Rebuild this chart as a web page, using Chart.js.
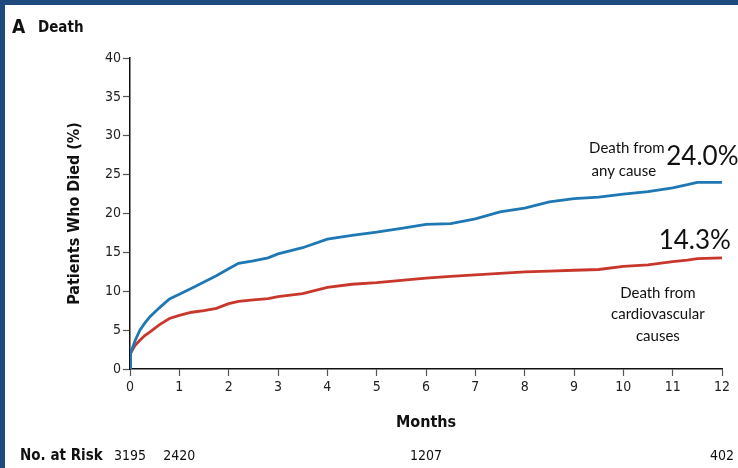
<!DOCTYPE html>
<html>
<head>
<meta charset="utf-8">
<script src="https://cdn.jsdelivr.net/npm/chart.js@4.4.0/dist/chart.umd.min.js"></script>
<style>
  html, body { margin: 0; padding: 0; background: #1f4a7e; }
  #frame {
    position: absolute; left: 5px; top: 5px;
    width: 733px; height: 463px; background: #fff;
  }
  #chart { display: block; }
</style>
</head>
<body>
<div id="frame"><canvas id="chart" width="733" height="463"></canvas></div>
<script>
/* ---------- data ---------- */
const months = [0, 0.01, 0.1, 0.2, 0.3, 0.4, 0.6, 0.8, 1.0, 1.25, 1.5, 1.75, 2.0, 2.2, 2.5, 2.8,
                3.0, 3.5, 4.0, 4.5, 5.0, 5.5, 6.0, 6.5, 7.0, 7.5, 8.0, 8.5, 9.0, 9.5, 10.0,
                10.5, 11.0, 11.3, 11.5, 12.0];

const anyCause = [0, 2.0, 3.6, 5.0, 5.9, 6.7, 7.9, 9.0, 9.6, 10.4, 11.2, 12.0, 12.9, 13.6, 13.9, 14.3,
                  14.8, 15.6, 16.7, 17.2, 17.6, 18.1, 18.6, 18.7, 19.3, 20.2, 20.7, 21.5, 21.9, 22.1, 22.5,
                  22.8, 23.3, 23.7, 24.0, 24.0];

const cvCause = [0, 2.0, 3.0, 3.7, 4.3, 4.75, 5.7, 6.5, 6.9, 7.3, 7.5, 7.8, 8.4, 8.7, 8.9, 9.05,
                 9.3, 9.7, 10.5, 10.9, 11.1, 11.4, 11.7, 11.9, 12.1, 12.3, 12.5, 12.6, 12.7, 12.8, 13.2,
                 13.4, 13.8, 14.0, 14.2, 14.3];

const riskMonths = [0, 1, 6, 12];
const riskCounts = ["3195", "2420", "1207", "402"];

const yTicks = [0, 5, 10, 15, 20, 25, 30, 35, 40];
const xTicks = [0, 1, 2, 3, 4, 5, 6, 7, 8, 9, 10, 11, 12];

/* ---------- styling ---------- */
const AXIS_FONT = "'DejaVu Sans Condensed', 'Liberation Sans', sans-serif";
const NOTE_FONT = "Lato, 'Open Sans', sans-serif";
const BLUE = "#1f78b4";
const RED = "#c9372c";

const toPoints = ys => months.map((m, i) => ({ x: m, y: ys[i] }));

/* extra texts: panel label, risk table, curve labels */
const textPlugin = {
    id: "textPlugin",
    afterDraw(chart) {
        const { ctx, scales: { x, y } } = chart;
        ctx.save();
        ctx.fillStyle = "#111";
        ctx.textBaseline = "middle";

        // panel label
        ctx.textAlign = "left";
        ctx.font = "bold 19px " + AXIS_FONT;
        ctx.fillText("A", 7, 23);
        ctx.font = "bold 15px " + AXIS_FONT;
        ctx.fillText("Death", 33, 23);

        // number at risk row
        ctx.font = "bold 15px " + AXIS_FONT;
        ctx.fillText("No. at Risk", 15, 451);
        ctx.font = "14px " + AXIS_FONT;
        ctx.textAlign = "center";
        riskMonths.forEach((m, i) => {
            ctx.fillText(riskCounts[i], x.getPixelForValue(m), 451);
        });

        // curve labels
        ctx.font = "15px " + NOTE_FONT;
        ctx.fillText("Death from", x.getPixelForValue(10.07), y.getPixelForValue(28.4));
        ctx.fillText("any cause", x.getPixelForValue(10.01), y.getPixelForValue(25.5));
        ctx.fillText("Death from", x.getPixelForValue(10.7), y.getPixelForValue(9.7));
        ctx.fillText("cardiovascular", x.getPixelForValue(10.7), y.getPixelForValue(7.0));
        ctx.fillText("causes", x.getPixelForValue(10.7), y.getPixelForValue(4.2));

        ctx.font = "26px " + NOTE_FONT;
        ctx.textAlign = "left";
        ctx.fillText("24.0%", x.getPixelForValue(10.87), y.getPixelForValue(27.3));
        ctx.textAlign = "right";
        ctx.fillText("14.3%", x.getPixelForValue(12.18), y.getPixelForValue(16.5));
        ctx.restore();
    }
};

new Chart(document.getElementById("chart"), {
    type: "line",
    data: {
        datasets: [
            { label: "Death from any cause", data: toPoints(anyCause), borderColor: BLUE, borderWidth: 2.8 },
            { label: "Death from cardiovascular causes", data: toPoints(cvCause), borderColor: RED, borderWidth: 2.8 }
        ]
    },
    options: {
        responsive: false,
        animation: false,
        layout: { padding: { left: 0, right: 16, top: 53, bottom: 0 } },
        elements: { point: { radius: 0 }, line: { tension: 0 } },
        plugins: { legend: { display: false }, tooltip: { enabled: false } },
        scales: {
            x: {
                type: "linear", min: 0, max: 12,
                afterBuildTicks: s => { s.ticks = xTicks.map(v => ({ value: v })); },
                afterFit: s => { s.height = 99; },
                border: { color: "#111", width: 1.5 },
                grid: { drawOnChartArea: false, tickLength: 7, color: "#555", tickWidth: 1.2 },
                ticks: { color: "#222", padding: 3, maxRotation: 0, font: { family: AXIS_FONT, size: 14 } },
                title: {
                    display: true, text: "Months", color: "#111",
                    font: { family: AXIS_FONT, size: 16, weight: "bold" },
                    padding: { top: 0, bottom: 36 }
                }
            },
            y: {
                type: "linear", min: 0, max: 40,
                afterBuildTicks: s => { s.ticks = yTicks.map(v => ({ value: v })); },
                afterFit: s => { s.width = 125; },
                border: { color: "#111", width: 1.5 },
                grid: { drawOnChartArea: false, tickLength: 7, color: "#555", tickWidth: 1.2 },
                ticks: { color: "#222", padding: 2, font: { family: AXIS_FONT, size: 14 } },
                title: {
                    display: true, text: "Patients Who Died (%)", color: "#111",
                    font: { family: AXIS_FONT, size: 16, weight: "bold" },
                    padding: { top: 60, bottom: 0 }
                }
            }
        }
    },
    plugins: [textPlugin]
});
</script>
</body>
</html>
